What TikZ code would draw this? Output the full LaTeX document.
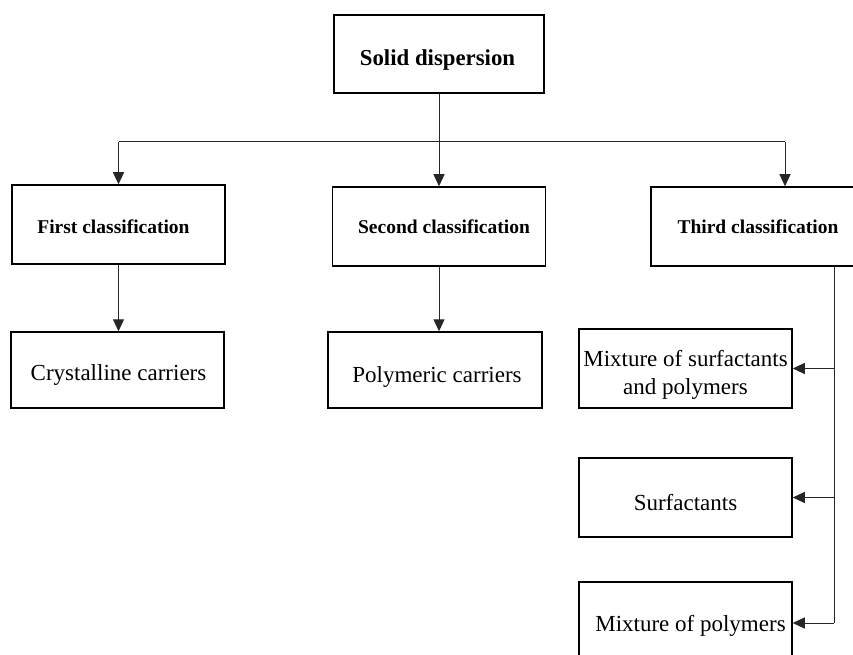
\documentclass[tikz,border=0pt]{standalone}
\usepackage{fontspec}
\newfontfamily\timesfont{Liberation Serif}
\usetikzlibrary{arrows.meta}
% move a text by dx (right) and dy (down) without changing its box
\newcommand\placetxt[3]{\raisebox{-#2}[\height][\depth]{\hspace*{#1}#3\hspace*{-#1}}}
\begin{document}
\begin{tikzpicture}[x=1pt,y=-1pt,
  box/.style={draw=black,line width=1.5pt,rectangle,inner sep=0pt,align=center,
              minimum width=213pt,minimum height=79pt},
  headtext/.style={font=\timesfont\bfseries\fontsize{19.5}{24}\selectfont},
  leaftext/.style={font=\timesfont\fontsize{23}{28}\selectfont},
  conn/.style={draw=black!85,line width=1pt},
  arr/.style={conn,-{Triangle[length=12pt,width=11pt]}}]
\useasboundingbox (0,0) rectangle (853,655);
\clip (0,0) rectangle (853,655);
\fill[white] (0,0) rectangle (853,655);
% top
\node[box,line width=2pt,minimum width=210pt,minimum height=78pt,
      font=\timesfont\bfseries\fontsize{22.8}{26}\selectfont] (solid) at (439,54)
      {\placetxt{-1.5pt}{6pt}{Solid dispersion}};
% classifications
\node[box,headtext] (first) at (118.5,224.5) {\placetxt{-5pt}{2pt}{First classification}};
\node[box,headtext] (second) at (439,226.5) {\placetxt{5pt}{0pt}{Second classification}};
\node[box,headtext,minimum width=214pt] (third) at (758,226.5) {Third classification};
% leaves
\node[box,leaftext,minimum height=76pt] (cryst) at (117.5,370) {\placetxt{1pt}{5pt}{Crystalline carriers}};
\node[box,leaftext,minimum width=214pt,minimum height=76pt] (poly) at (435,370) {\placetxt{2pt}{7pt}{Polymeric carriers}};
\node[box,leaftext] (mixsp) at (685.5,368.5) {\placetxt{0pt}{6pt}{Mixture of surfactants}\\\placetxt{0pt}{6pt}{and polymers}};
\node[box,leaftext] (surf) at (685.5,497.5) {\placetxt{0pt}{5pt}{Surfactants}};
\node[box,leaftext] (mixp) at (685.5,621.5) {\placetxt{5pt}{4pt}{Mixture of polymers}};
% connectors
\coordinate (bus) at (439,142);
\coordinate (busR) at (785,142);
\draw[conn] (solid.south) -- (bus);
\draw[conn] (bus -| first.north) -- (busR);
\draw[arr] (bus -| first.north) -- (first.north);
\draw[arr] (bus) -- (second.north);
\draw[arr] (busR) -- (busR |- third.north);
\draw[arr] (first.south) -- (first.south |- cryst.north);
\draw[arr] (second.south) -- (second.south |- poly.north);
\coordinate (rail) at (834,266);
\coordinate (railEnd) at (834,623);
\draw[conn] (rail) -- (railEnd);
\draw[arr] (rail |- mixsp.east) -- (mixsp.east);
\draw[arr] (rail |- surf.east) -- (surf.east);
\draw[arr] (railEnd) -- (railEnd -| mixp.east);
\end{tikzpicture}
\end{document}
